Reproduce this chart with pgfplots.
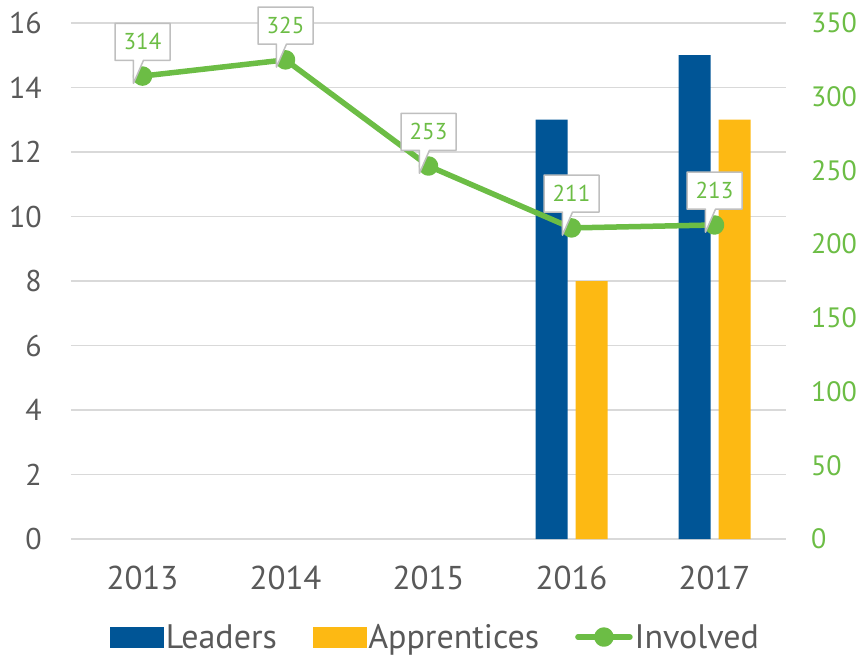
\documentclass[border=0pt]{standalone}
\usepackage{fontspec}
\setmainfont{PT Sans}
\usepackage{pgfplots}
\pgfplotsset{compat=1.18}
\usetikzlibrary{shapes.callouts}
\definecolor{leaders}{HTML}{005596}
\definecolor{appr}{HTML}{FDB913}
\definecolor{inv}{HTML}{6CBD45}
\definecolor{txt}{HTML}{595959}
\definecolor{gridc}{HTML}{D9D9D9}
\definecolor{callb}{HTML}{BFBFBF}
\begin{document}
\begin{tikzpicture}
\path[use as bounding box] (-71pt,-117pt) rectangle (787pt,539pt);
\begin{axis}[
 at={(0pt,0pt)}, anchor=south west,
 scale only axis, width=715pt, height=516pt,
 xmin=-0.5, xmax=4.5, ymin=0, ymax=16,
 ytick={0,2,...,16},
 xtick={0,1,2,3,4}, xticklabels={2013,2014,2015,2016,2017},
 axis line style={draw=none},
 major tick length=0pt,
 ymajorgrids, grid style={gridc, line width=1.5pt},
 /pgf/number format/assume math mode=true,
 yticklabel style={font=\fontsize{30}{32}\selectfont, text=txt, anchor=east, xshift=-29pt, inner sep=0pt},
 xticklabel style={font=\fontsize{33}{36}\selectfont, text=txt, anchor=north, yshift=-27pt, inner sep=0pt},
 ybar, bar width=32pt,
]
\addplot[fill=leaders, draw=none, bar shift=-20pt] coordinates {(3,13) (4,15)};
\addplot[fill=appr, draw=none, bar shift=20pt] coordinates {(3,8) (4,13)};
\end{axis}
\begin{axis}[
 at={(0pt,0pt)}, anchor=south west,
 scale only axis, width=715pt, height=516pt,
 xmin=-0.5, xmax=4.5, ymin=0, ymax=350,
 ytick={0,50,...,350},
 hide x axis,
 axis y line*=right,
 axis line style={draw=none},
 major tick length=0pt,
 /pgf/number format/assume math mode=true,
 yticklabel style={font=\fontsize{28}{30}\selectfont, text=inv, anchor=west, xshift=25pt, inner sep=0pt},
 legend columns=3,
 legend style={at={(0.51,-0.19)}, anchor=center, draw=none, fill=none,
   font=\fontsize{34}{36}\selectfont, text=txt,
   /tikz/every even column/.append style={column sep=34pt},
   nodes={inner sep=2pt}, cells={anchor=west}},
]
\addlegendimage{legend image code/.code={\fill[leaders] (0pt,-10pt) rectangle (53pt,10pt);}}
\addlegendentry{Leaders}
\addlegendimage{legend image code/.code={\fill[appr] (0pt,-10pt) rectangle (53pt,10pt);}}
\addlegendentry{Apprentices}
\addplot[inv, line width=5.5pt, line cap=round, line join=round,
  mark=*, mark size=7pt, mark options={draw=none, fill=inv},
  legend image code/.code={\draw[inv, line width=5.5pt, line cap=round] (0pt,0pt) -- (52pt,0pt); \fill[inv] (26pt,0pt) circle (7pt);},
  nodes near coords,
  every node near coord/.append style={rectangle callout, draw=callb, line width=1.5pt, fill=white,
    text=inv, font=\fontsize{23}{25}\selectfont, minimum width=55pt, minimum height=37pt, inner sep=2pt,
    anchor=south, yshift=15pt, callout relative pointer={(-5pt,-23pt)}, callout pointer width=10pt},
] coordinates {(0,314) (1,325) (2,253) (3,211) (4,213)};
\addlegendentry{Involved}
\end{axis}
\end{tikzpicture}
\end{document}
